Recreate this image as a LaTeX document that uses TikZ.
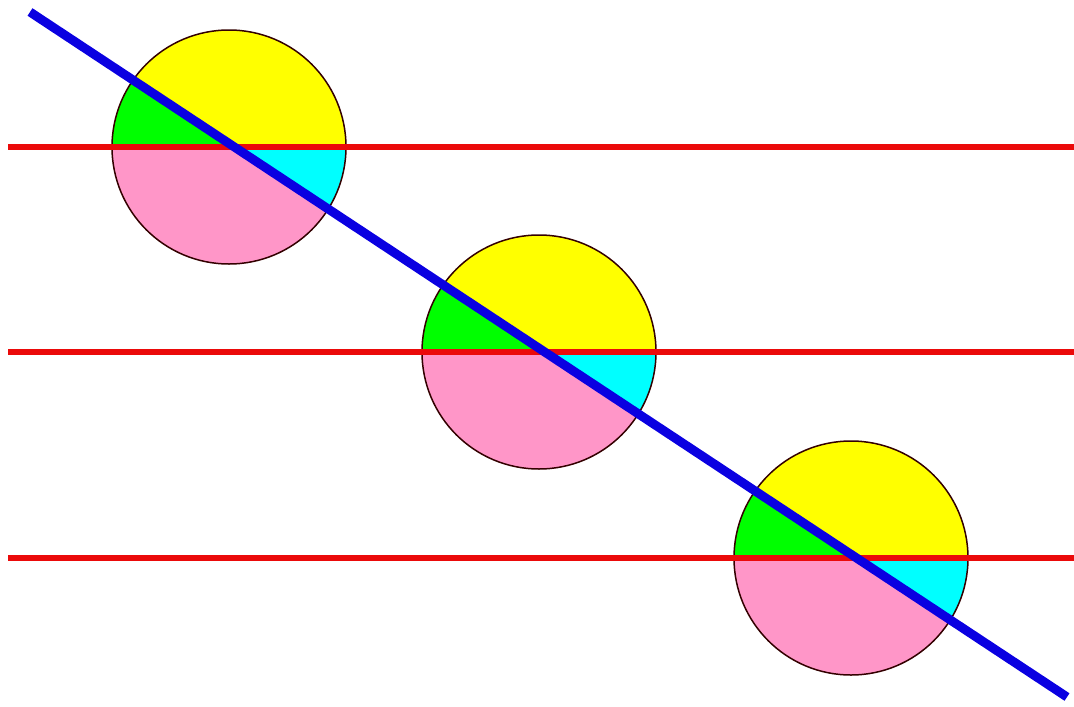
\documentclass[tikz,border=0pt]{standalone}
\usepackage{tikz}

\definecolor{yellowfill}{RGB}{255,255,0}
\definecolor{greenfill}{RGB}{0,255,0}
\definecolor{cyanfill}{RGB}{0,255,255}
\definecolor{pinkfill}{RGB}{255,150,200}
\definecolor{redline}{RGB}{235,10,10}
\definecolor{blueline}{RGB}{10,0,225}

\begin{document}
\begin{tikzpicture}[x=1pt, y=-1pt]
        \useasboundingbox (0,0) rectangle (1074,707);

        % Blue line end points
        \coordinate (P) at (30,12);
        \coordinate (Q) at (1067,697);

        % Circle centres
        \coordinate (C1) at (229,147);
        \coordinate (C2) at (539,352);
        \coordinate (C3) at (851,558);

        % Fill circle 1
        \begin{scope}
            \clip (C1) circle (117);
            \fill[yellowfill] (C1) circle (117);
            \fill[pinkfill] (112,147) rectangle (346,264);
            \begin{scope}
                \clip (P) -- (Q) -- (0,707) -- cycle;
                \fill[greenfill] (112,30) rectangle (346,147);
            \end{scope}
            \begin{scope}
                \clip (P) -- (Q) -- (1074,0) -- cycle;
                \fill[cyanfill] (112,147) rectangle (346,264);
            \end{scope}
        \end{scope}

        % Fill circle 2
        \begin{scope}
            \clip (C2) circle (117);
            \fill[yellowfill] (C2) circle (117);
            \fill[pinkfill] (422,352) rectangle (656,469);
            \begin{scope}
                \clip (P) -- (Q) -- (0,707) -- cycle;
                \fill[greenfill] (422,235) rectangle (656,352);
            \end{scope}
            \begin{scope}
                \clip (P) -- (Q) -- (1074,0) -- cycle;
                \fill[cyanfill] (422,352) rectangle (656,469);
            \end{scope}
        \end{scope}

        % Fill circle 3
        \begin{scope}
            \clip (C3) circle (117);
            \fill[yellowfill] (C3) circle (117);
            \fill[pinkfill] (734,558) rectangle (968,675);
            \begin{scope}
                \clip (P) -- (Q) -- (0,707) -- cycle;
                \fill[greenfill] (734,441) rectangle (968,558);
            \end{scope}
            \begin{scope}
                \clip (P) -- (Q) -- (1074,0) -- cycle;
                \fill[cyanfill] (734,558) rectangle (968,675);
            \end{scope}
        \end{scope}

        % Draw circle outlines
        \draw[black!80!red, line width=1.5] (C1) circle (117);
        \draw[black!80!red, line width=1.5] (C2) circle (117);
        \draw[black!80!red, line width=1.5] (C3) circle (117);

        % Draw red lines
        \draw[redline, line width=6] (8,147) -- (1074,147);
        \draw[redline, line width=6] (8,352) -- (1074,352);
        \draw[redline, line width=6] (8,558) -- (1074,558);

        % Draw blue line
        \draw[blueline, line width=9] (P) -- (Q);
    \end{tikzpicture}
\end{document}
